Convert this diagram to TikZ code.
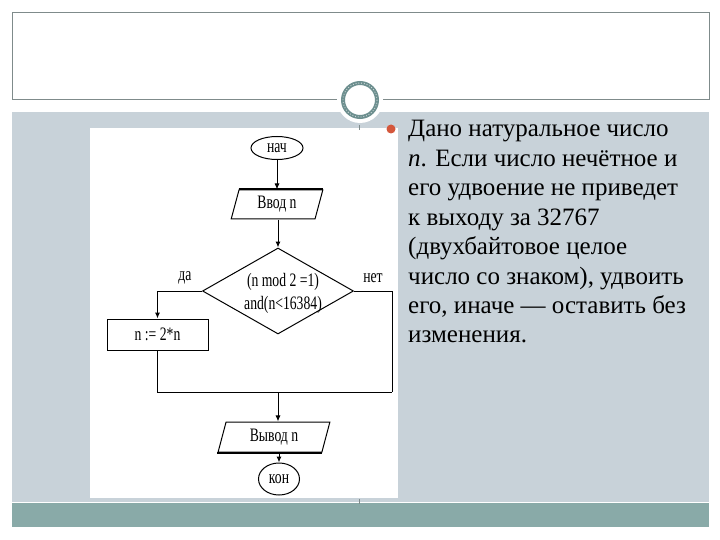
\documentclass[tikz,border=0pt]{standalone}
\usepackage{fontspec}
\usepackage{graphicx}
\setmainfont{Liberation Serif}
\newfontfamily\bodyfont{Liberation Serif}
\usetikzlibrary{shapes.geometric,arrows.meta}
\definecolor{bandcol}{HTML}{C8D2D9}
\definecolor{barcol}{HTML}{89AAA8}
\definecolor{framecol}{HTML}{7F8B8B}
\definecolor{ringcol}{HTML}{6D8F8F}
\definecolor{bulletcol}{HTML}{D4573C}
\newcommand\fctext[1]{\scalebox{0.72}[1]{\bodyfont\fontsize{19}{20}\selectfont #1}}
\tikzset{
  fcline/.style={line width=1pt, black},
  fcarrow/.style={fcline, -{Latex[length=6pt,width=5pt]}},
  term/.style={ellipse, draw, line width=1pt, inner sep=0pt},
  io/.style={trapezium, trapezium left angle=76, trapezium right angle=104, draw, line width=1pt,
    trapezium stretches=true, inner sep=0pt},
  proc/.style={rectangle, draw, line width=1pt, inner sep=0pt},
  dec/.style={diamond, draw, line width=1pt, inner sep=0pt, aspect=1.75},
  bodytext/.style={anchor=base west, inner sep=0pt, font=\bodyfont\fontsize{25}{29}\selectfont}
}
\begin{document}
\begin{tikzpicture}[x=1pt,y=-1pt]
\useasboundingbox (0,0) rectangle (720,540);
\fill[white] (0,0) rectangle (720,540);
% slide background
\fill[bandcol] (12,112) rectangle (709,502);
\fill[barcol] (12,503) rectangle (709,527);
\draw[framecol, line width=1pt] (12,100) -- (12,13) -- (709,13) -- (709,100);
\draw[framecol, line width=1pt] (12,100) -- (709,100);
% picture area
\fill[white] (90,128) rectangle (398,498);
% ring ornament
\fill[white] (360,100) circle (23);
\draw[ringcol, line width=4pt] (360,100) circle (17);
\draw[white!75!ringcol, line width=0.8pt, dotted] (360,100) circle (17);
% ticks
\draw[framecol, line width=0.8pt] (359,125) -- (359,130);
\draw[framecol, line width=0.8pt] (359,499) -- (359,504);
% bullet
\fill[bulletcol] (391,129) circle (4.5);

% flowchart
\node[term, minimum width=52pt, minimum height=23pt] (nach) at (277,148) {\fctext{нач}};
\node[io, minimum width=92pt, minimum height=29pt] (vvod) at (277,204.5) {\fctext{Ввод n}};
\node[dec, minimum width=151pt, minimum height=86pt] (dia) at (278,291) {};
\node[inner sep=0pt, anchor=base] (diat1) at (283,286) {\fctext{(n mod 2 =1)}};
\node[inner sep=0pt, anchor=base] (diat2) at (283,309) {\fctext{and(n<16384)}};
\node[proc, minimum width=101pt, minimum height=31pt] (box) at (157.5,334.5) {\fctext{n := 2*n}};
\node[io, minimum width=112pt, minimum height=30pt] (vyvod) at (274,437) {\fctext{Вывод n}};
\node[term, minimum width=41pt, minimum height=32pt] (kon) at (279,479) {\fctext{кон}};
\coordinate (rc) at (392,392);
\coordinate (mj) at (278,392);
\draw[line width=2pt] (vvod.top left corner) -- (vvod.top right corner);
\draw[line width=2pt] (vyvod.bottom left corner) -- (vyvod.bottom right corner);

\draw[fcarrow] (nach.south -| vvod.north) -- (vvod.north);
\draw[fcarrow] (vvod.south -| dia.north) -- (dia.north);
\draw[fcarrow] (dia.west) -| (box.north);
\draw[fcline] (dia.east) -| (rc);
\draw[fcline] (box.south) |- (rc);
\draw[fcarrow] (mj) -- (mj |- vyvod.north);
\draw[fcarrow] (vyvod.south -| kon.north) -- (kon.north);
\node (da) at (185,278) {\fctext{да}};
\node (net) at (373,278) {\fctext{нет}};

% text
\node[bodytext] (t1) at (408,137.0) {Дано натуральное число};
\node[bodytext] (t2) at (408,166.4) {\textit{n}. Если число нечётное и};
\node[bodytext] (t3) at (408,195.8) {его удвоение не приведет};
\node[bodytext] (t4) at (408,225.2) {к выходу за 32767};
\node[bodytext] (t5) at (408,254.6) {(двухбайтовое целое};
\node[bodytext] (t6) at (408,284.0) {число со знаком), удвоить};
\node[bodytext] (t7) at (408,313.4) {его, иначе — оставить без};
\node[bodytext] (t8) at (408,342.8) {изменения.};
\end{tikzpicture}
\end{document}
